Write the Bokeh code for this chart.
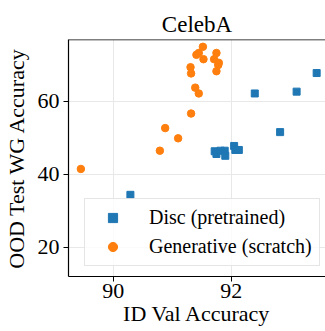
from bokeh.plotting import figure
from bokeh.embed import file_html
from bokeh.resources import INLINE
from bokeh.models import Range1d, Span, Legend, LegendItem, FixedTicker

disc_x = [93.45, 92.40, 93.11, 92.83, 91.72, 91.75, 91.82, 91.89, 91.90, 92.05, 92.07, 92.13, 90.29]
disc_y = [67.8, 62.2, 62.7, 51.6, 46.35, 45.6, 46.5, 46.5, 45.1, 47.8, 46.7, 46.7, 34.4]

gen_x = [91.52, 91.41, 91.45, 91.53, 91.75, 91.71, 91.79, 91.78, 91.75, 91.31, 91.32,
         91.39, 91.45, 91.32, 90.88, 91.10, 90.79, 89.45]
gen_y = [75.0, 72.8, 73.3, 71.6, 73.3, 71.6, 70.6, 70.0, 68.3, 69.4, 67.7,
         63.8, 62.2, 56.7, 52.7, 49.9, 46.5, 41.5]

x_ticks = [90, 92]
y_ticks = [20, 40, 60]

FONT = "Liberation Serif"

p = figure(width=325, height=331, output_backend="svg", toolbar_location=None,
           x_range=Range1d(89.24, 93.6), y_range=Range1d(12.0, 77.0),
           min_border_left=66, min_border_right=0, min_border_top=39, min_border_bottom=55)
p.background_fill_color = "white"
p.border_fill_color = "white"
p.outline_line_color = None

p.title.text = "CelebA"
p.title.align = "center"
p.title.text_font = FONT
p.title.text_font_size = "23px"
p.title.text_font_style = "normal"
p.title.text_color = "black"
p.title.standoff = 6

for ax, ticks, label in [(p.xaxis[0], x_ticks, "ID Val Accuracy"), (p.yaxis[0], y_ticks, "OOD Test WG Accuracy")]:
    ax.ticker = FixedTicker(ticks=ticks)
    ax.axis_label = label
    ax.axis_label_text_font = FONT
    ax.axis_label_text_font_size = "22px"
    ax.axis_label_text_font_style = "normal"
    ax.axis_label_text_color = "black"
    ax.major_label_text_font = FONT
    ax.major_label_text_font_size = "22px"
    ax.major_label_text_font_style = "normal"
    ax.major_label_text_color = "black"
    ax.axis_line_color = "black"
    ax.axis_line_width = 1.2
    ax.major_tick_line_color = "black"
    ax.major_tick_out = 5
    ax.major_tick_in = 0
    ax.minor_tick_line_color = None
    ax.axis_label_standoff = 0
    ax.major_label_standoff = 2
p.yaxis[0].major_label_standoff = 4
p.yaxis[0].axis_label_standoff = 6

p.xgrid.ticker = FixedTicker(ticks=x_ticks)
p.ygrid.ticker = FixedTicker(ticks=y_ticks)
p.grid.grid_line_color = "#e8e8e8"
p.grid.grid_line_width = 1

top = Span(location=77.0, dimension="width", line_color="black", line_width=1.5)
p.add_layout(top)

r1 = p.scatter(disc_x, disc_y, marker="square", size=7, color="#1f77b4")
r2 = p.scatter(gen_x, gen_y, marker="circle", size=7.5, color="#ff7f0e")

legend = Legend(items=[LegendItem(label="Disc (pretrained)", renderers=[r1]),
                       LegendItem(label="Generative (scratch)", renderers=[r2])],
                location=(16, 10))
legend.label_text_font = FONT
legend.label_text_font_style = "normal"
legend.label_text_font_size = "20px"
legend.label_text_color = "black"
legend.glyph_width = 41
legend.glyph_height = 23
legend.label_standoff = 16
legend.label_height = 23
legend.padding = 7
legend.spacing = 6
legend.margin = 0
legend.border_line_color = "#cccccc"
legend.background_fill_alpha = 0.8
p.add_layout(legend)

open("out.html", "w").write(file_html(p, INLINE))
